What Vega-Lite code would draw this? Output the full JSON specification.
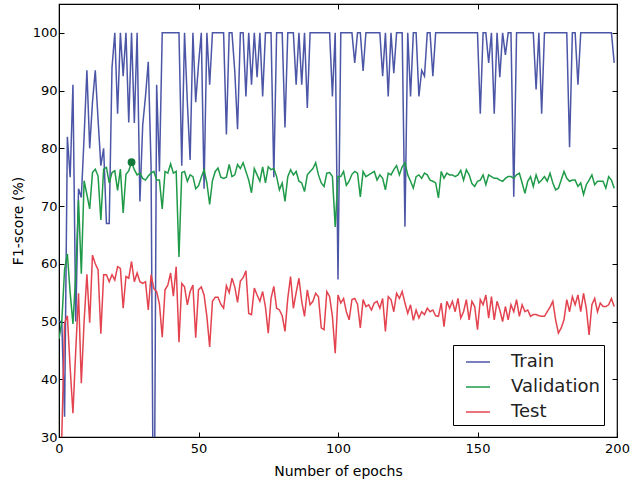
{
  "$schema": "https://vega.github.io/schema/vega-lite/v6.json",
  "autosize": "none",
  "width": 558,
  "height": 433,
  "padding": {"left": 59, "top": 4, "right": 17, "bottom": 44},
  "background": "white",
  "config": {
    "font": "DejaVu Sans",
    "view": {"stroke": "black", "strokeWidth": 1.2},
    "axis": {"grid": false, "domainColor": "black", "tickColor": "black", "labelColor": "black", "titleColor": "black", "labelFontSize": 13, "titleFontSize": 14, "titleFontWeight": "normal", "tickSize": -5, "labelPadding": 7, "labelFlush": false, "labelOverlap": false}
  },
  "resolve": {"axis": {"x": "independent", "y": "independent"}},
  "layer": [
    {
      "data": {"values": [
{"e":0,"Train":50,"Validation":47,"Test":20},{"e":1,"Train":50,"Validation":50,"Test":30},{"e":2,"Train":33.5,"Validation":59,"Test":49.7},{"e":3,"Train":82,"Validation":61.7,"Test":51},{"e":4,"Train":75,"Validation":55,"Test":42},{"e":5,"Train":91,"Validation":49.6,"Test":34.1},{"e":6,"Train":50,"Validation":58,"Test":45},{"e":7,"Train":73,"Validation":71,"Test":54.9},{"e":8,"Train":71.5,"Validation":58.3,"Test":39.3},{"e":9,"Train":82,"Validation":74.4,"Test":50},
{"e":10,"Train":93.5,"Validation":72,"Test":58.2},{"e":11,"Train":80,"Validation":69.5,"Test":49.8},{"e":12,"Train":88,"Validation":75.8,"Test":61.5},{"e":13,"Train":93.5,"Validation":76.4,"Test":60},{"e":14,"Train":85,"Validation":75.2,"Test":59},{"e":15,"Train":77,"Validation":67.6,"Test":47.9},{"e":16,"Train":80,"Validation":76.4,"Test":58.1},{"e":17,"Train":67,"Validation":76.7,"Test":58.1},{"e":18,"Train":67,"Validation":74,"Test":56.9},{"e":19,"Train":94,"Validation":75.8,"Test":58.1},
{"e":20,"Train":100,"Validation":76.1,"Test":57.2},{"e":21,"Train":86,"Validation":72.7,"Test":59.5},{"e":22,"Train":100,"Validation":76.4,"Test":59.2},{"e":23,"Train":92.5,"Validation":68.8,"Test":52.3},{"e":24,"Train":100,"Validation":75.5,"Test":57.8},{"e":25,"Train":84.5,"Validation":76.1,"Test":57.5},{"e":26,"Train":100,"Validation":77.6,"Test":60.4},{"e":27,"Train":84.4,"Validation":76.3,"Test":56.9},{"e":28,"Train":100,"Validation":75.4,"Test":58.4},{"e":29,"Train":70.8,"Validation":75.7,"Test":56.9},
{"e":30,"Train":84,"Validation":74.8,"Test":56.6},{"e":31,"Train":89,"Validation":74.5,"Test":56.9},{"e":32,"Train":95,"Validation":75.2,"Test":52},{"e":33,"Train":77,"Validation":75.7,"Test":58.1},{"e":34,"Train":0,"Validation":76,"Test":55.7},{"e":35,"Train":91,"Validation":74.5,"Test":55.2},{"e":36,"Train":76,"Validation":74.5,"Test":53},{"e":37,"Train":100,"Validation":69.5,"Test":47.3},{"e":38,"Train":100,"Validation":76,"Test":55.5},{"e":39,"Train":100,"Validation":75.7,"Test":56.3},
{"e":40,"Train":100,"Validation":77.3,"Test":58.4},{"e":41,"Train":100,"Validation":75.7,"Test":54.4},{"e":42,"Train":100,"Validation":76,"Test":59.5},{"e":43,"Train":100,"Validation":61.2,"Test":46.4},{"e":44,"Train":77,"Validation":75.8,"Test":56.6},{"e":45,"Train":100,"Validation":76,"Test":56},{"e":46,"Train":88,"Validation":74.3,"Test":52.9},{"e":47,"Train":78,"Validation":75.4,"Test":55.2},{"e":48,"Train":100,"Validation":75.1,"Test":56.3},{"e":49,"Train":88,"Validation":73,"Test":47.2},
{"e":50,"Train":94.5,"Validation":73.5,"Test":55.5},{"e":51,"Train":100,"Validation":75,"Test":56},{"e":52,"Train":73,"Validation":76.3,"Test":54.6},{"e":53,"Train":100,"Validation":74,"Test":50.9},{"e":54,"Train":91,"Validation":70.3,"Test":45.6},{"e":55,"Train":100,"Validation":74.4,"Test":53.5},{"e":56,"Train":100,"Validation":76,"Test":54.2},{"e":57,"Train":100,"Validation":76.6,"Test":54.2},{"e":58,"Train":100,"Validation":75,"Test":53},{"e":59,"Train":100,"Validation":74.8,"Test":52.3},
{"e":60,"Train":82.4,"Validation":75,"Test":56.2},{"e":61,"Train":100,"Validation":77.2,"Test":55},{"e":62,"Train":100,"Validation":75.1,"Test":57.5},{"e":63,"Train":93.4,"Validation":75.4,"Test":56},{"e":64,"Train":83.3,"Validation":77.2,"Test":53.3},{"e":65,"Train":100,"Validation":76.5,"Test":57},{"e":66,"Train":100,"Validation":77.5,"Test":57.6},{"e":67,"Train":89,"Validation":76,"Test":58.8},{"e":68,"Train":100,"Validation":74.5,"Test":51.4},{"e":69,"Train":91,"Validation":72.3,"Test":51.2},
{"e":70,"Train":100,"Validation":76.5,"Test":55.8},{"e":71,"Train":92.3,"Validation":75.4,"Test":54.6},{"e":72,"Train":100,"Validation":74.3,"Test":53.5},{"e":73,"Train":89,"Validation":76.8,"Test":55.2},{"e":74,"Train":100,"Validation":74,"Test":52.5},{"e":75,"Train":100,"Validation":76.8,"Test":48},{"e":76,"Train":100,"Validation":76.3,"Test":54},{"e":77,"Train":75,"Validation":76.5,"Test":56.1},{"e":78,"Train":100,"Validation":75.1,"Test":52.3},{"e":79,"Train":100,"Validation":72.8,"Test":52},
{"e":80,"Train":100,"Validation":74,"Test":51},{"e":81,"Train":83.6,"Validation":70.8,"Test":48.3},{"e":82,"Train":100,"Validation":75.1,"Test":54},{"e":83,"Train":100,"Validation":76.3,"Test":57.8},{"e":84,"Train":100,"Validation":75.4,"Test":52.3},{"e":85,"Train":91,"Validation":76,"Test":55},{"e":86,"Train":100,"Validation":74.3,"Test":57.5},{"e":87,"Train":91,"Validation":74,"Test":53.5},{"e":88,"Train":100,"Validation":72.5,"Test":50.9},{"e":89,"Train":87,"Validation":75.4,"Test":55.5},
{"e":90,"Train":100,"Validation":76,"Test":52.9},{"e":91,"Train":100,"Validation":76.5,"Test":53.5},{"e":92,"Train":100,"Validation":77.5,"Test":54.9},{"e":93,"Train":100,"Validation":75.4,"Test":54.3},{"e":94,"Train":100,"Validation":74,"Test":48.9},{"e":95,"Train":100,"Validation":73.4,"Test":48.6},{"e":96,"Train":100,"Validation":75.7,"Test":55.2},{"e":97,"Train":100,"Validation":75.8,"Test":54.3},{"e":98,"Train":89,"Validation":75.1,"Test":50.9},{"e":99,"Train":100,"Validation":66.4,"Test":44.5},
{"e":100,"Train":57.3,"Validation":75.1,"Test":54.6},{"e":101,"Train":100,"Validation":75.1,"Test":53.2},{"e":102,"Train":100,"Validation":76,"Test":54},{"e":103,"Train":100,"Validation":73.6,"Test":51.7},{"e":104,"Train":100,"Validation":74.3,"Test":50.3},{"e":105,"Train":100,"Validation":75.5,"Test":53.8},{"e":106,"Train":94.8,"Validation":76,"Test":54},{"e":107,"Train":100,"Validation":75.7,"Test":53},{"e":108,"Train":100,"Validation":71.6,"Test":48.9},{"e":109,"Train":93.4,"Validation":76,"Test":53.8},
{"e":110,"Train":100,"Validation":75.1,"Test":52.6},{"e":111,"Train":100,"Validation":75.4,"Test":52.9},{"e":112,"Train":100,"Validation":75.7,"Test":52},{"e":113,"Train":100,"Validation":76,"Test":53.2},{"e":114,"Train":100,"Validation":74.5,"Test":53.5},{"e":115,"Train":100,"Validation":75.4,"Test":52.3},{"e":116,"Train":92.5,"Validation":74.8,"Test":54},{"e":117,"Train":100,"Validation":72.8,"Test":48.3},{"e":118,"Train":89,"Validation":75.7,"Test":54.3},{"e":119,"Train":100,"Validation":75.4,"Test":53.8},
{"e":120,"Train":93,"Validation":76.3,"Test":51.7},{"e":121,"Train":100,"Validation":77,"Test":54.9},{"e":122,"Train":100,"Validation":75.4,"Test":54},{"e":123,"Train":100,"Validation":76.8,"Test":55.2},{"e":124,"Train":66.4,"Validation":77.5,"Test":53.2},{"e":125,"Train":100,"Validation":75.4,"Test":51.4},{"e":126,"Train":89,"Validation":74.3,"Test":52.9},{"e":127,"Train":100,"Validation":73.1,"Test":50.2},{"e":128,"Train":100,"Validation":75.1,"Test":52},{"e":129,"Train":89,"Validation":75.4,"Test":50.6},
{"e":130,"Train":93.5,"Validation":74.8,"Test":51.7},{"e":131,"Train":92.5,"Validation":75.7,"Test":51.2},{"e":132,"Train":100,"Validation":75.4,"Test":52.3},{"e":133,"Train":100,"Validation":74.5,"Test":51.7},{"e":134,"Train":92.5,"Validation":74.3,"Test":52},{"e":135,"Train":100,"Validation":74,"Test":51},{"e":136,"Train":100,"Validation":71.4,"Test":50.9},{"e":137,"Train":100,"Validation":76,"Test":53.2},{"e":138,"Train":100,"Validation":74.8,"Test":49.1},{"e":139,"Train":100,"Validation":75.7,"Test":53.5},
{"e":140,"Train":100,"Validation":75.4,"Test":52.3},{"e":141,"Train":100,"Validation":75.4,"Test":53.5},{"e":142,"Train":100,"Validation":75.1,"Test":51.7},{"e":143,"Train":100,"Validation":75.4,"Test":54},{"e":144,"Train":100,"Validation":76.2,"Test":50.6},{"e":145,"Train":100,"Validation":74.5,"Test":51.7},{"e":146,"Train":100,"Validation":76.3,"Test":53.8},{"e":147,"Train":100,"Validation":75.4,"Test":50.3},{"e":148,"Train":100,"Validation":73.9,"Test":53.5},{"e":149,"Train":100,"Validation":73.4,"Test":52.6},
{"e":150,"Train":100,"Validation":74.3,"Test":48.6},{"e":151,"Train":86,"Validation":74.5,"Test":53.8},{"e":152,"Train":100,"Validation":75.4,"Test":52.9},{"e":153,"Train":100,"Validation":73.7,"Test":54.6},{"e":154,"Train":94.8,"Validation":75.4,"Test":50.6},{"e":155,"Train":100,"Validation":75.1,"Test":54.3},{"e":156,"Train":86,"Validation":74.8,"Test":50.3},{"e":157,"Train":100,"Validation":74.8,"Test":53.5},{"e":158,"Train":92.3,"Validation":74.5,"Test":52},{"e":159,"Train":100,"Validation":74.3,"Test":50},
{"e":160,"Train":96.2,"Validation":74.8,"Test":52.6},{"e":161,"Train":100,"Validation":75.1,"Test":50.3},{"e":162,"Train":100,"Validation":75.1,"Test":52.9},{"e":163,"Train":71.6,"Validation":74.8,"Test":51.7},{"e":164,"Train":100,"Validation":75.4,"Test":53.8},{"e":165,"Train":100,"Validation":75.7,"Test":50.9},{"e":166,"Train":100,"Validation":74,"Test":52.9},{"e":167,"Train":100,"Validation":72.2,"Test":51.7},{"e":168,"Train":100,"Validation":74.3,"Test":52},{"e":169,"Train":100,"Validation":75.1,"Test":50.9},
{"e":170,"Train":100,"Validation":73.4,"Test":51.2},{"e":171,"Train":90.2,"Validation":75.4,"Test":51.2},{"e":172,"Train":100,"Validation":74,"Test":51},{"e":173,"Train":86,"Validation":74.5,"Test":50.9},{"e":174,"Train":100,"Validation":75.1,"Test":50.9},{"e":175,"Train":100,"Validation":74.3,"Test":51.7},{"e":176,"Train":100,"Validation":75.7,"Test":52.5},{"e":177,"Train":100,"Validation":74,"Test":53.5},{"e":178,"Train":100,"Validation":72.8,"Test":50.3},{"e":179,"Train":100,"Validation":73.1,"Test":48},
{"e":180,"Train":100,"Validation":74.5,"Test":48.9},{"e":181,"Train":100,"Validation":76,"Test":50.3},{"e":182,"Train":100,"Validation":74.8,"Test":53.8},{"e":183,"Train":80.2,"Validation":74.3,"Test":51.7},{"e":184,"Train":100,"Validation":74.5,"Test":54.3},{"e":185,"Train":100,"Validation":74.5,"Test":52.9},{"e":186,"Train":91,"Validation":73.4,"Test":54.6},{"e":187,"Train":100,"Validation":74,"Test":51.7},{"e":188,"Train":100,"Validation":72,"Test":54.9},{"e":189,"Train":100,"Validation":73.7,"Test":52.3},
{"e":190,"Train":100,"Validation":74.5,"Test":47.7},{"e":191,"Train":100,"Validation":75.4,"Test":52.9},{"e":192,"Train":100,"Validation":73.7,"Test":54},{"e":193,"Train":100,"Validation":74.3,"Test":51.7},{"e":194,"Train":100,"Validation":74.3,"Test":53.2},{"e":195,"Train":100,"Validation":74.3,"Test":52.6},{"e":196,"Train":100,"Validation":73.1,"Test":52.6},{"e":197,"Train":100,"Validation":75.1,"Test":52.9},{"e":198,"Train":100,"Validation":74.5,"Test":54},{"e":199,"Train":94.8,"Validation":73.1,"Test":52.6}
      ]},
      "transform": [{"fold": ["Train", "Validation", "Test"], "as": ["series", "value"]}],
      "mark": {"type": "line", "strokeWidth": 1.5, "clip": true},
      "encoding": {
        "x": {"field": "e", "type": "quantitative", "scale": {"domain": [0, 200], "nice": false, "zero": false},
              "axis": {"orient": "bottom", "values": [0, 50, 100, 150, 200], "title": "Number of epochs", "titlePadding": 9, "labelPadding": 10}},
        "y": {"field": "value", "type": "quantitative", "scale": {"domain": [30, 105], "nice": false, "zero": false},
              "axis": {"orient": "left", "values": [30, 40, 50, 60, 70, 80, 90, 100], "title": "F1-score (%)", "titlePadding": 7}},
        "color": {"field": "series", "type": "nominal",
                  "scale": {"domain": ["Train", "Validation", "Test"], "range": ["#4c56a6", "#1f9a48", "#e3434f"]},
                  "legend": {"title": null, "orient": "none", "legendX": 394, "legendY": 341,
                             "symbolType": "stroke", "symbolSize": 576, "symbolStrokeWidth": 1.5, "symbolOffset": 8,
                             "labelFontSize": 18, "labelColor": "#222", "labelOffset": 20, "rowPadding": 3,
                             "padding": 4, "strokeColor": "black", "fillColor": "white", "cornerRadius": 0}}
      }
    },
    {
      "data": {"values": [{"e": 26, "v": 77.6}]},
      "mark": {"type": "point", "filled": true, "size": 60, "color": "#137a3b", "opacity": 1},
      "encoding": {
        "x": {"field": "e", "type": "quantitative", "scale": {"domain": [0, 200], "nice": false, "zero": false},
              "axis": {"orient": "top", "values": [0, 50, 100, 150, 200], "labels": false, "title": null, "domain": false}},
        "y": {"field": "v", "type": "quantitative", "scale": {"domain": [30, 105], "nice": false, "zero": false},
              "axis": {"orient": "right", "values": [30, 40, 50, 60, 70, 80, 90, 100], "labels": false, "title": null, "domain": false}}
      }
    }
  ]
}
